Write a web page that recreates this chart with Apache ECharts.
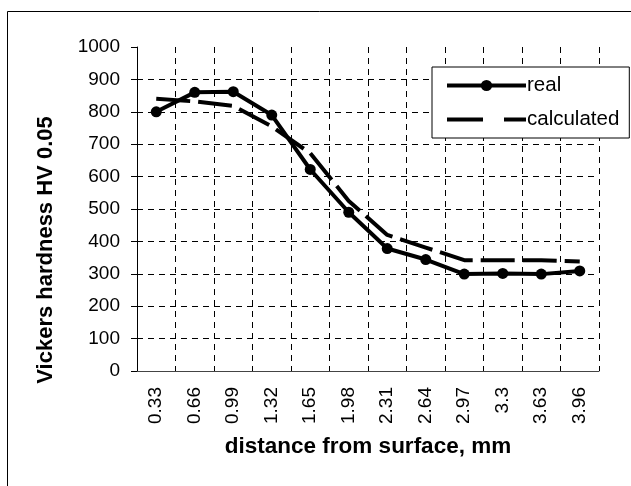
<!DOCTYPE html>
<html>
<head>
<meta charset="utf-8">
<script src="https://cdn.jsdelivr.net/npm/echarts@6/dist/echarts.min.js"></script>
<style>
    html, body { margin: 0; padding: 0; background: #fff; }
    #chart { width: 631px; height: 486px; }
</style>
</head>
<body>
<div id="chart"></div>
<script>
// distance from surface, mm
const distances = ['0.33', '0.66', '0.99', '1.32', '1.65', '1.98', '2.31', '2.64', '2.97', '3.3', '3.63', '3.96']
// hardness values
const realValues = [800, 860, 862, 790, 622, 490, 378, 344, 299, 301, 299, 309]
const calculatedValues = [840, 832, 818, 755, 672, 525, 420, 381, 342, 342, 342, 338]

const font = '"Liberation Sans", Arial, sans-serif'
const gridDash = [6, 5]

const chart = echarts.init(document.getElementById('chart'))

chart.setOption({
    backgroundColor: '#fff',
    animation: false,
    textStyle: { fontFamily: font, color: '#000' },
    graphic: [{
        type: 'rect',
        shape: { x: 7.5, y: 11.5, width: 700, height: 600 },
        style: { fill: 'none', stroke: '#000', lineWidth: 1 },
        silent: true,
    }],
    grid: {
        left: 137,
        right: 32,
        top: 47,
        bottom: 115,
    },
    legend: {
        orient: 'vertical',
        left: 432,
        top: 67,
        padding: [8, 10, 8, 13],
        itemWidth: 79,
        itemHeight: 14,
        itemGap: 13,
        backgroundColor: '#fff',
        borderColor: '#000',
        borderWidth: 1,
        borderRadius: 0,
        lineStyle: { width: 4, color: '#000' },
        textStyle: { fontSize: 20.5, color: '#000', fontFamily: font, padding: [0, 0, 0, -4] },
        data: [
            { name: 'real' },
            { name: 'calculated', itemStyle: { opacity: 0 }, lineStyle: { type: [36, 21], width: 4 } },
        ],
    },
    xAxis: {
        type: 'category',
        data: distances,
        name: 'distance from surface, mm',
        nameLocation: 'middle',
        nameGap: 64,
        nameTextStyle: { fontSize: 22.5, fontWeight: 'bold', color: '#000' },
        axisLine: { lineStyle: { color: '#444', width: 1 } },
        axisTick: { length: 6, lineStyle: { color: '#444' } },
        axisLabel: { rotate: 90, fontSize: 19, color: '#000', margin: 16 },
        splitLine: {
            show: true,
            lineStyle: { color: '#000', width: 1, type: gridDash },
        },
    },
    yAxis: {
        type: 'value',
        min: 0,
        max: 1000,
        interval: 100,
        name: 'Vickers hardness HV 0.05',
        nameLocation: 'middle',
        nameGap: 80,
        nameTextStyle: { fontSize: 22, fontWeight: 'bold', color: '#000', padding: [0, 82, 0, 0] },
        axisLine: { show: true, lineStyle: { color: '#000', width: 1 } },
        axisTick: { show: true, length: 6, lineStyle: { color: '#000' } },
        axisLabel: { fontSize: 19, color: '#000', margin: 17, formatter: v => String(v) },
        splitLine: {
            show: true,
            showMaxLine: false,
            lineStyle: { color: '#000', width: 1, type: gridDash },
        },
    },
    series: [
        {
            name: 'real',
            type: 'line',
            data: realValues,
            symbol: 'circle',
            symbolSize: 11,
            itemStyle: { color: '#000' },
            lineStyle: { color: '#000', width: 4 },
            z: 3,
        },
        {
            name: 'calculated',
            type: 'line',
            data: calculatedValues,
            showSymbol: false,
            symbol: 'none',
            itemStyle: { color: '#000' },
            lineStyle: { color: '#000', width: 4, type: [34, 8] },
            z: 2,
        },
    ],
})
</script>
</body>
</html>
